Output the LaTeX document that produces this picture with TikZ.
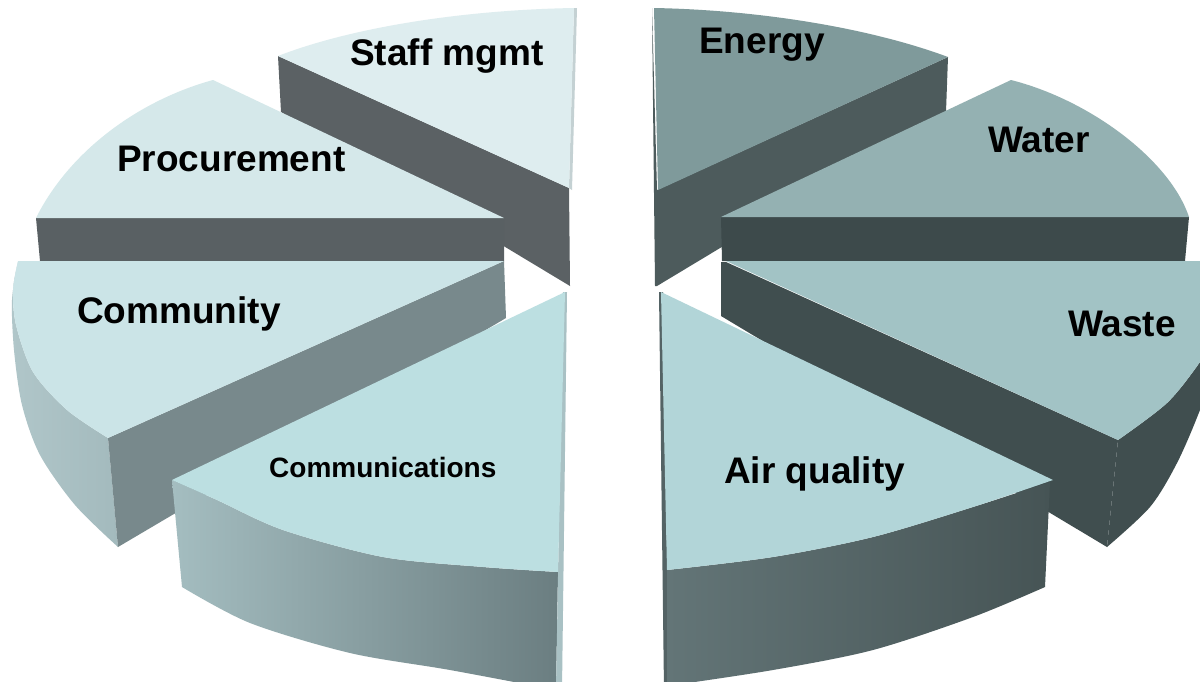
\documentclass[tikz,border=0pt]{standalone}
\usepackage{fontspec}
\setmainfont{Liberation Sans}
\definecolor{stafftop}{HTML}{DEEDEF}
\definecolor{staffside}{HTML}{5B6164}
\definecolor{proctop}{HTML}{D5E8EA}
\definecolor{procside}{HTML}{596063}
\definecolor{commtop}{HTML}{CBE4E7}
\definecolor{commrad}{HTML}{78898C}
\definecolor{commoutL}{HTML}{B0C6C9}
\definecolor{commoutR}{HTML}{A3BABD}
\definecolor{comtop}{HTML}{BCDFE1}
\definecolor{comoutL}{HTML}{A4BDC0}
\definecolor{comoutR}{HTML}{6B7E81}
\definecolor{comsliver}{HTML}{A9C1C4}
\definecolor{energytop}{HTML}{7F9A9B}
\definecolor{energyside}{HTML}{4D5B5C}
\definecolor{watertop}{HTML}{94B1B2}
\definecolor{waterside}{HTML}{3D4A4B}
\definecolor{wastetop}{HTML}{A2C3C5}
\definecolor{wasteside}{HTML}{404E4F}
\definecolor{airtop}{HTML}{B2D5D8}
\definecolor{airoutL}{HTML}{637577}
\definecolor{airoutR}{HTML}{465455}
\begin{document}
\begin{tikzpicture}[x=1pt,y=-1pt,
  lbl/.style={font=\fontsize{37}{40}\selectfont\bfseries, inner sep=0pt, anchor=base west},
  lblsmall/.style={font=\fontsize{28}{32}\selectfont\bfseries, inner sep=0pt, anchor=base west}]
\useasboundingbox (0,0) rectangle (1200,681);
\clip (0,0) rectangle (1200,681);
\fill[white] (0,0) rectangle (1200,681);

% ---- Staff mgmt
\fill[staffside] (278,56) -- (569,188) -- (570,286) -- (281,112) -- cycle;
\fill[stafftop!80!staffside] (569,188) -- (574,8) -- (577,8) -- (572,190) -- cycle;
\fill[stafftop] (278,56) .. controls (350,28) and (460,10) .. (574,8) -- (569,188) -- cycle;

% ---- Energy
\fill[energyside] (652,8) -- (657,190) -- (948,57) -- (946,112) -- (657,286) -- (655,286) -- cycle;
\fill[energytop] (654,8) .. controls (760,10) and (870,28) .. (948,57) -- (658,190) -- cycle;

% ---- Procurement
\fill[procside] (36,218) -- (504,218) -- (504,261) -- (40,261) -- cycle;
\fill[proctop] (36,218) .. controls (70,150) and (140,100) .. (213,80) -- (504,218) -- cycle;

% ---- Water
\fill[waterside] (721,217) -- (1189,217) -- (1185,261) -- (722,261) -- cycle;
\fill[watertop] (721,217) -- (1011,80) .. controls (1090,100) and (1170,160) .. (1189,217) -- cycle;

% ---- Community
\shade[left color=commoutL, right color=commoutR]
  (18,262) -- plot[smooth] coordinates {(18,262) (12,300) (14,350) (22,405) (40,455) (75,505) (118,547)}
  -- (108,438)
  -- plot[smooth] coordinates {(108,438) (67,410) (33,372) (16,325) (13,290) (18,262)} -- cycle;
\fill[commrad] (108,438) -- (504,261) -- (506,318) -- (118,547) -- cycle;
\fill[commtop] (504,261) -- (18,261)
  -- plot[smooth] coordinates {(18,261) (13,290) (16,325) (33,372) (67,410) (108,438)} -- cycle;

% ---- Waste
\fill[wasteside]
  plot[smooth] coordinates {(1240,262) (1222,325) (1200,362) (1167,403) (1118,440)}
  -- (1107,547)
  -- plot[smooth] coordinates {(1107,547) (1150,507) (1177,463) (1200,410) (1225,340) (1240,300)} -- cycle;
\fill[wasteside] (726,262) -- (1118,440) -- (1107,547) -- (721,316) -- (721,262) -- cycle;
\fill[wastetop] (726,261) -- (1240,261)
  -- plot[smooth] coordinates {(1240,261) (1222,325) (1200,362) (1167,403) (1118,440)} -- cycle;

% ---- Communications
\shade[left color=comoutL, right color=comoutR]
  (172,480) -- plot[smooth] coordinates {(172,480) (217,500) (283,530) (383,557) (483,567) (558,572)}
  -- (556,690)
  -- plot[smooth] coordinates {(556,690) (450,670) (350,653) (250,623) (182,587)} -- cycle;
\fill[comsliver] (563,292) -- (567,292) -- (562,690) -- (556,690) -- cycle;
\fill[comtop] (565,292) -- (172,480)
  -- plot[smooth] coordinates {(172,480) (217,500) (283,530) (383,557) (483,567) (558,572)} -- cycle;

% ---- Air quality
\fill[airoutL!85!black] (659,292) -- (663,292) -- (669,690) -- (664,690) -- cycle;
\shade[left color=airoutL, right color=airoutR]
  (667,570) -- plot[smooth] coordinates {(667,570) (773,557) (873,537) (973,507) (1050,482)}
  -- (1045,587)
  -- plot[smooth] coordinates {(1045,587) (973,617) (873,650) (773,670) (667,686)} -- cycle;
\fill[airtop] (661,292) -- (1053,480)
  -- plot[smooth] coordinates {(1053,480) (973,507) (873,537) (773,557) (667,570)} -- cycle;

% ---- Labels
\node[lbl] (staff) at (350,65) {Staff mgmt};
\node[lbl] (proc) at (117,171) {Procurement};
\node[lbl] (comm) at (77,323) {Community};
\node[lblsmall] (comms) at (269,477) {Communications};
\node[lbl] (energy) at (699,53) {Energy};
\node[lbl] (water) at (988,152) {Water};
\node[lbl] (waste) at (1068,336) {Waste};
\node[lbl] (air) at (724,483) {Air quality};
\end{tikzpicture}
\end{document}
